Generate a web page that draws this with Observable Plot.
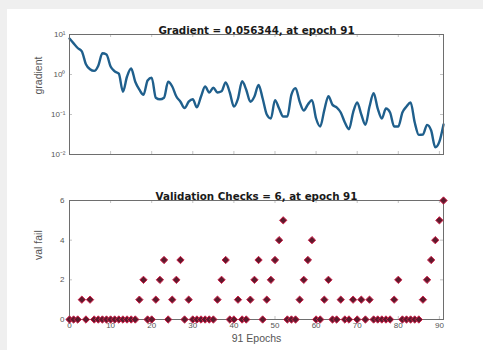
<!DOCTYPE html>
<html><head><meta charset="utf-8">
<script src="https://cdn.jsdelivr.net/npm/d3@7"></script>
<script src="https://cdn.jsdelivr.net/npm/@observablehq/plot@0.6"></script>
<style>
html,body{margin:0;padding:0;background:#efefef;width:483px;height:350px;overflow:hidden;}
#panel{position:absolute;left:7px;top:9px;width:476px;height:341px;background:#fff;}
#topChart{position:absolute;left:0;top:0;}
#botChart{position:absolute;left:0;top:165px;}
</style></head><body>
<div id="panel"></div>
<div id="topChart"></div>
<div id="botChart"></div>
<script>
// Gradient per epoch (epoch 0..91)
const gradient = [
  7.9, 6.0, 4.6, 3.8, 1.8, 1.35, 1.23, 1.66, 3.39, 3.16,
  1.58, 1.20, 1.05, 0.372, 0.891, 1.41, 0.661, 0.417, 0.309, 0.708,
  0.832, 0.263, 0.240, 0.263, 0.661, 0.501, 0.282, 0.209, 0.145, 0.209,
  0.240, 0.151, 0.282, 0.501, 0.355, 0.468, 0.355, 0.380, 0.631, 0.355,
  0.158, 0.251, 0.676, 0.417, 0.209, 0.282, 0.550, 0.251, 0.100, 0.0794,
  0.229, 0.141, 0.0891, 0.0891, 0.316, 0.457, 0.209, 0.126, 0.178, 0.229,
  0.0794, 0.0501, 0.129, 0.288, 0.174, 0.151, 0.112, 0.0631, 0.0427, 0.112,
  0.200, 0.100, 0.0550, 0.158, 0.339, 0.141, 0.0794, 0.141, 0.112, 0.0501,
  0.0501, 0.112, 0.158, 0.200, 0.0631, 0.0309, 0.0316, 0.0550, 0.0398, 0.0151,
  0.0209, 0.056344
];
// Validation fail count per epoch (epoch 0..91)
const valFail = [
  0,0,0,1,0,1,0,0,0,0,
  0,0,0,0,0,0,0,1,2,0,
  0,1,2,3,0,1,2,3,0,1,
  0,0,0,0,0,0,1,2,3,0,
  0,1,0,0,1,2,3,0,1,2,
  3,4,5,0,0,0,1,2,3,4,
  0,0,1,2,0,0,1,0,0,1,
  0,1,0,1,0,0,0,0,0,1,
  2,0,0,0,0,0,1,2,3,4,
  5,6
];
const xTicks = [0,10,20,30,40,50,60,70,80,90];
const gradTicks = [0.01, 0.1, 1, 10];
const gradTickLabels = ["10\u207B\u00B2", "10\u207B\u00B9", "10\u2070", "10\u00B9"];
const valTicks = [0,2,4,6];
const titleTop = "Gradient = 0.056344, at epoch 91";
const titleBot = "Validation Checks = 6, at epoch 91";
const yLabelTop = "gradient";
const yLabelBot = "val fail";
const xLabelBot = "91 Epochs";

const gData = gradient.map((g, i) => ({epoch: i, g}));
const vData = valFail.map((v, i) => ({epoch: i, v}));

const font = "'Liberation Sans', Arial, Helvetica, sans-serif";
const titleFont = "'DejaVu Sans', sans-serif";
const tickCol = "#c4c4c4";
const frameCol = "#6e6e6e";
const textCol = "#555";

const W = 483, ML = 69, MR = 40;
const fw = W - ML - MR;

// Top plot
const H1 = 165, MT1 = 34, MB1 = 11, fh1 = H1 - MT1 - MB1;
const chartTop = Plot.plot({
  width: W, height: H1,
  marginLeft: ML, marginRight: MR, marginTop: MT1, marginBottom: MB1,
  style: {fontFamily: font, background: "transparent", overflow: "visible"},
  x: {domain: [0, 91], axis: null},
  y: {type: "log", domain: [0.01, 10], axis: null},
  marks: [
    Plot.ruleX(xTicks, {x: d => d, insetBottom: fh1 - 3, stroke: tickCol}),
    Plot.ruleX(xTicks, {x: d => d, insetTop: fh1 - 3, stroke: tickCol}),
    Plot.ruleY(gradTicks, {y: d => d, insetRight: fw - 3, stroke: tickCol}),
    Plot.ruleY(gradTicks, {y: d => d, insetLeft: fw - 3, stroke: tickCol}),
    Plot.axisY({ticks: gradTicks, tickFormat: d => gradTickLabels[gradTicks.indexOf(d)], tickSize: 0, tickPadding: 4, label: null, fontSize: 8, color: textCol}),
    Plot.line(gData, {x: "epoch", y: "g", stroke: "#1f5f8c", strokeWidth: 2.4, strokeLinejoin: "round", curve: "monotone-x"}),
    Plot.frame({stroke: frameCol}),
    Plot.text([titleTop], {frameAnchor: "top", dy: -8, fontWeight: "bold", fontSize: 10.3, fontFamily: titleFont, fill: "#1a1a1a"}),
    Plot.text([yLabelTop], {frameAnchor: "left", dx: -31, rotate: -90, fontSize: 10.5, fill: textCol})
  ]
});
document.getElementById("topChart").appendChild(chartTop);

// Bottom plot
const H2 = 185, MT2 = 35, MB2 = 31, fh2 = H2 - MT2 - MB2;
const chartBot = Plot.plot({
  width: W, height: H2,
  marginLeft: ML, marginRight: MR, marginTop: MT2, marginBottom: MB2,
  style: {fontFamily: font, background: "transparent", overflow: "visible"},
  x: {domain: [0, 91], axis: null},
  y: {domain: [0, 6], axis: null},
  marks: [
    Plot.ruleX(xTicks, {x: d => d, insetBottom: fh2 - 3, stroke: tickCol}),
    Plot.ruleX(xTicks, {x: d => d, insetTop: fh2 - 3, stroke: tickCol}),
    Plot.ruleY(valTicks, {y: d => d, insetRight: fw - 3, stroke: tickCol}),
    Plot.ruleY(valTicks, {y: d => d, insetLeft: fw - 3, stroke: tickCol}),
    Plot.axisY({ticks: valTicks, tickFormat: d => String(d), tickSize: 0, tickPadding: 5, label: null, fontSize: 8, color: textCol}),
    Plot.axisX({ticks: xTicks, tickFormat: d => String(d), tickSize: 0, tickPadding: 3, label: null, fontSize: 8, color: textCol}),
    Plot.frame({stroke: frameCol}),
    Plot.dot(vData, {x: "epoch", y: "v", symbol: "diamond2", r: 3.3, fill: "#5e1a2c", stroke: "#d0204a", strokeWidth: 1}),
    Plot.text([titleBot], {frameAnchor: "top", dy: -8, fontWeight: "bold", fontSize: 10.3, fontFamily: titleFont, fill: "#1a1a1a"}),
    Plot.text([yLabelBot], {frameAnchor: "left", dx: -31, rotate: -90, fontSize: 10.5, fill: textCol}),
    Plot.text([xLabelBot], {frameAnchor: "bottom", dy: 22, fontSize: 10.5, fill: textCol})
  ]
});
document.getElementById("botChart").appendChild(chartBot);
</script>
</body></html>
